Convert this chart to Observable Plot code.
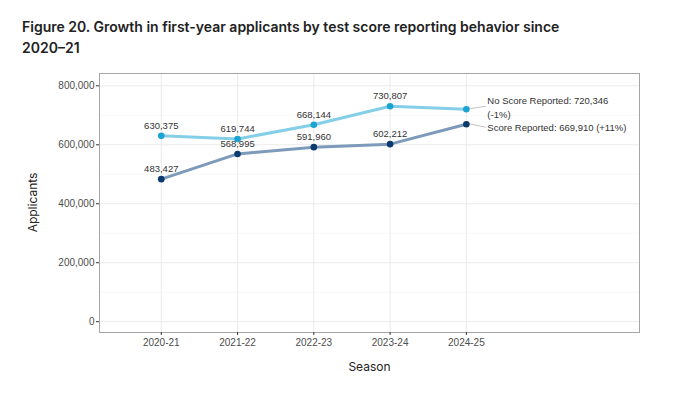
<!DOCTYPE html>
<html>
<head>
<meta charset="utf-8">
<script src="https://cdn.jsdelivr.net/npm/d3@7"></script>
<script src="https://cdn.jsdelivr.net/npm/@observablehq/plot@0.6"></script>
<style>
  body { margin: 0; background: #fff; }
  #title { font-family: "Inter", "Noto Sans", sans-serif; font-weight: 600; font-size: 14px; line-height: 21px; color: #222; margin: 16px 0 0 22px; width: 580px; height: 44px; }
</style>
</head>
<body>
<div id="title">Figure 20. Growth in first-year applicants by test score reporting behavior since 2020–21</div>
<div id="chart"></div>
<script>
const seasons = ["2020-21", "2021-22", "2022-23", "2023-24", "2024-25"];
const noScore = [630375, 619744, 668144, 730807, 720346];
const score = [483427, 568995, 591960, 602212, 669910];
const yTicks = [0, 200000, 400000, 600000, 800000];
const yMinor = [100000, 300000, 500000, 700000];
const seriesNames = ["No Score Reported", "Score Reported"];
const endLabels = ["No Score Reported: 720,346\n(-1%)", "Score Reported: 669,910 (+11%)"];

const fmt = d3.format(",");
const rows = [];
seasons.forEach((s, i) => {
  rows.push({series: seriesNames[0], i, season: s, value: noScore[i]});
  rows.push({series: seriesNames[1], i, season: s, value: score[i]});
});
const noRows = rows.filter(d => d.series === seriesNames[0]);
const scRows = rows.filter(d => d.series === seriesNames[1]);
const last = seasons.length - 1;
const endNo = [{i: last, value: noScore[last], label: endLabels[0]}];
const endSc = [{i: last, value: score[last], label: endLabels[1]}];
const leadOffsets = [-2.5, 3.5];

const labelFont = "Liberation Sans, Arial, sans-serif";

function leaders(index, scales) {
  const g = d3.create("svg:g");
  [endNo[0], endSc[0]].forEach((d, k) => {
    const x = scales.x(d.i), y = scales.y(d.value);
    g.append("line").attr("x1", x + 3).attr("y1", y).attr("x2", x + 20).attr("y2", y + leadOffsets[k])
      .attr("stroke", "#b3b3b3").attr("stroke-width", 0.8);
  });
  return g.node();
}

const chart = Plot.plot({
  width: 673,
  height: 335,
  marginLeft: 99,
  marginRight: 34,
  marginTop: 13,
  marginBottom: 63,
  style: {fontFamily: labelFont, background: "#fff"},
  x: {type: "linear", domain: [-0.81, 6.27], axis: null},
  y: {domain: [-36700, 841800], axis: null},
  marks: [
    Plot.ruleY(yMinor, {stroke: "#f2f2f2", strokeWidth: 0.6}),
    Plot.ruleY(yTicks, {stroke: "#ebebeb", strokeWidth: 1}),
    Plot.ruleX(d3.range(seasons.length), {stroke: "#ebebeb", strokeWidth: 1}),
    Plot.frame({stroke: "#a6a6a6", strokeWidth: 1}),
    Plot.axisY(yTicks, {tickSize: 3, tickPadding: 2, stroke: "#333", fontSize: 10, color: "#4d4d4d", tickFormat: d => fmt(d), label: null}),
    Plot.axisX(d3.range(seasons.length), {tickSize: 3, tickPadding: 3, stroke: "#333", fontSize: 10, color: "#4d4d4d", tickFormat: i => seasons[i], label: null}),
    Plot.line(noRows, {x: "i", y: "value", stroke: "#84cfe7", strokeWidth: 3}),
    Plot.line(scRows, {x: "i", y: "value", stroke: "#7d9abb", strokeWidth: 3}),
    leaders,
    Plot.dot(noRows, {x: "i", y: "value", fill: "#1ba3d1", r: 3.3}),
    Plot.dot(scRows, {x: "i", y: "value", fill: "#0b3a70", r: 3.3}),
    Plot.text(rows.filter(d => d.i < last), {x: "i", y: "value", text: d => fmt(d.value), dy: -10, fontSize: 9.5, fill: "#333"}),
    Plot.text(endNo, {x: "i", y: "value", text: "label", dx: 21, dy: -2.5, textAnchor: "start", fontSize: 9.5, fill: "#333", lineHeight: 1.38}),
    Plot.text(endSc, {x: "i", y: "value", text: "label", dx: 21, dy: 3.5, textAnchor: "start", fontSize: 9.5, fill: "#333"})
  ]
});
document.getElementById("chart").appendChild(chart);

const svg = d3.select(chart);
svg.append("text").attr("x", 369.5).attr("y", 311).attr("text-anchor", "middle")
  .attr("font-family", "Inter, Noto Sans, sans-serif").attr("font-size", 12).attr("fill", "#222").text("Season");
svg.append("text").attr("transform", "translate(37,142.5) rotate(-90)").attr("text-anchor", "middle")
  .attr("font-family", "Inter, Noto Sans, sans-serif").attr("font-size", 12).attr("fill", "#222").text("Applicants");
</script>
</body>
</html>
